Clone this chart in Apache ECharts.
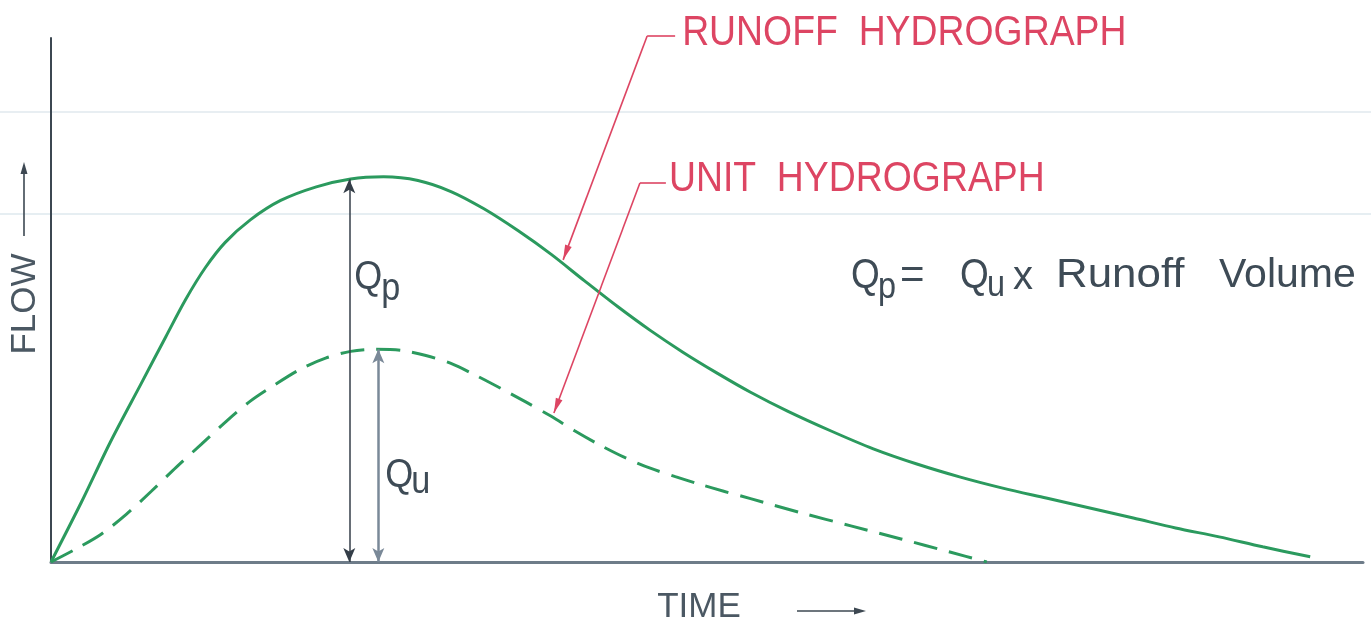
<!DOCTYPE html>
<html><head><meta charset="utf-8">
<script src="https://cdn.jsdelivr.net/npm/echarts@6/dist/echarts.min.js"></script>
<style>html,body{margin:0;padding:0;background:#fff}#c{width:1371px;height:630px}</style>
</head><body><div id="c"></div>
<script>
// ---- data (time and flow in relative units) ----
const runoffTime = [0, 2.3, 4.5, 6.8, 8.7, 10.2, 11.7, 13.2, 15.1, 17.4, 20.1, 22.7, 25.2, 27.8, 30.3, 32.8, 35.4, 37.9, 40.4, 42.9, 45.4, 47.9, 50.5, 53.0, 55.8, 59.1, 62.3, 65.6, 68.9, 72.1, 75.4, 78.7, 82.0, 85.2, 88.5, 91.8, 95.4];
const runoffFlow = [0, 11.4, 22.9, 33.9, 43.0, 50.1, 56.2, 61.0, 65.3, 69.0, 71.6, 73.1, 73.5, 72.8, 70.7, 67.4, 63.2, 58.7, 53.7, 48.8, 44.2, 40.0, 36.0, 32.4, 28.8, 25.0, 21.6, 18.7, 16.2, 14.1, 12.2, 10.3, 8.4, 6.5, 4.8, 2.9, 1.0];
const unitTime = [0, 1.9, 3.8, 5.7, 7.6, 9.5, 11.4, 13.3, 15.1, 17.0, 18.9, 20.8, 22.7, 24.6, 26.5, 28.4, 30.3, 32.2, 34.1, 36.0, 37.9, 39.7, 41.6, 43.5, 45.4, 47.3, 49.2, 51.1, 53.0, 56.8, 60.6, 64.4, 68.1, 70.9];
const unitFlow = [0, 2.5, 5.3, 9.1, 13.5, 18.1, 22.5, 26.9, 30.7, 33.9, 36.8, 38.9, 40.2, 40.6, 40.4, 39.4, 37.9, 35.6, 33.1, 30.5, 27.8, 25.0, 22.3, 19.9, 17.9, 16.3, 14.8, 13.4, 12.1, 9.4, 6.9, 4.4, 1.9, 0];
const qpArrowTime = 22.6;
const quArrowTime = 24.8;
const runoffLeaderTime = 38.8;
const unitLeaderTime = 38.1;
const runoffLabel = 'RUNOFF  HYDROGRAPH';
const unitLabel = 'UNIT  HYDROGRAPH';
const xName = 'TIME';
const yName = 'FLOW';

function interp(ts, vs, t) {
  for (let i = 1; i < ts.length; i++) {
    if (t <= ts[i]) { const f = (t - ts[i-1]) / (ts[i] - ts[i-1]); return vs[i-1] + f * (vs[i] - vs[i-1]); }
  }
  return vs[vs.length - 1];
}
const zip = (a, b) => a.map((v, i) => [v, b[i]]);
const qpTop = interp(runoffTime, runoffFlow, qpArrowTime);
const quTop = interp(unitTime, unitFlow, quArrowTime);

const GREEN = '#2b9a5e', RED = '#dd4563', INK = '#3e4b56';
const FONT = '"Liberation Sans", Arial, sans-serif';

const chart = echarts.init(document.getElementById('c'), null, {renderer: 'canvas'});
chart.setOption({
  animation: false,
  backgroundColor: '#fff',
  grid: {left: 50, right: 8, top: 38, bottom: 67},
  xAxis: {type: 'value', min: 0, max: 99.4, name: xName, nameLocation: 'middle', nameGap: 28,
    nameTextStyle: {fontFamily: FONT, fontSize: 35, color: '#4b5863', padding: [0, 16, 0, 0]},
    axisLine: {show: true, lineStyle: {color: '#6e7c89', width: 3}},
    axisTick: {show: false}, axisLabel: {show: false}, splitLine: {show: false}},
  yAxis: {type: 'value', min: 0, max: 100, name: yName, nameLocation: 'middle', nameRotate: 90, nameGap: 8,
    nameTextStyle: {fontFamily: FONT, fontSize: 35, color: '#4b5863', padding: [0, 8, 0, 0]},
    axisLine: {show: true, lineStyle: {color: '#3c4751', width: 2}},
    axisTick: {show: false}, axisLabel: {show: false}, splitLine: {show: false}},
  series: [
    {name: 'Runoff hydrograph', type: 'line', data: zip(runoffTime, runoffFlow), showSymbol: false,
      smooth: 0.3,
      lineStyle: {color: GREEN, width: 3}, z: 3,
      markLine: {silent: true, symbol: ['arrow', 'arrow'], symbolSize: [9, 14], label: {show: false},
        lineStyle: {color: '#343e48', width: 1.5, type: 'solid'},
        data: [[{coord: [qpArrowTime, 0]}, {coord: [qpArrowTime, qpTop]}]]}},
    {name: 'Unit hydrograph', type: 'line', data: zip(unitTime, unitFlow), showSymbol: false,
      smooth: 0.3,
      lineStyle: {color: GREEN, width: 3, type: [24, 12]}, z: 3,
      markLine: {silent: true, symbol: ['arrow', 'arrow'], symbolSize: [9, 14], label: {show: false},
        lineStyle: {color: '#7a8998', width: 2.5, type: 'solid'},
        data: [[{coord: [quArrowTime, 0]}, {coord: [quArrowTime, quTop]}]]}}
  ]
});

const px = (t, q) => chart.convertToPixel({xAxisIndex: 0, yAxisIndex: 0}, [t, q]);
function text(x, y, s, size, color, sx) {
  return {type: 'text', x: x, y: y, z: 10, scaleX: sx || 1, style: {text: s, font: size + 'px ' + FONT, fill: color,
    align: 'left', verticalAlign: 'middle', textAlign: 'left', textVerticalAlign: 'middle'}};
}
function head(tip, from, len, w, color) {
  const dx = tip[0] - from[0], dy = tip[1] - from[1], L = Math.hypot(dx, dy);
  const ux = dx / L, uy = dy / L, nx = -uy, ny = ux;
  return {type: 'polygon', z: 10, shape: {points: [tip, [tip[0] - ux*len + nx*w, tip[1] - uy*len + ny*w], [tip[0] - ux*len - nx*w, tip[1] - uy*len - ny*w]]}, style: {fill: color}};
}
function seg(a, b, color, w) {
  return {type: 'line', z: 10, shape: {x1: a[0], y1: a[1], x2: b[0], y2: b[1]}, style: {stroke: color, lineWidth: w}};
}

const g = [];
// faint scan lines
g.push({type: 'line', z: -1, shape: {x1: 0, y1: 112, x2: 1371, y2: 112}, style: {stroke: '#e8eef2', lineWidth: 2}});
g.push({type: 'line', z: -1, shape: {x1: 0, y1: 214, x2: 1371, y2: 214}, style: {stroke: '#e6eef2', lineWidth: 2}});
// axis direction arrows
g.push(seg([797, 611], [856, 611], '#3d4852', 1.6));
g.push(head([866, 611], [797, 611], 12, 3.5, '#3d4852'));
g.push(seg([24, 236], [24, 172], '#3d4852', 1.6));
g.push(head([24, 162], [24, 236], 12, 3.5, '#3d4852'));
// leaders
const rTip = px(runoffLeaderTime, interp(runoffTime, runoffFlow, runoffLeaderTime)); rTip[1] -= 4;
const rCorner = [rTip[0] + 84, 36];
g.push(seg(rTip, rCorner, RED, 1.6));
g.push(seg(rCorner, [rCorner[0] + 28, 36], RED, 1.6));
g.push(head(rTip, rCorner, 15, 3.5, RED));
g.push(text(rCorner[0] + 35, 33, runoffLabel, 42, RED, 0.89));
const uTip = px(unitLeaderTime, interp(unitTime, unitFlow, unitLeaderTime)); uTip[1] -= 5;
const uCorner = [uTip[0] + 86, 183];
g.push(seg(uTip, uCorner, RED, 1.6));
g.push(seg(uCorner, [uCorner[0] + 26, 183], RED, 1.6));
g.push(head(uTip, uCorner, 15, 3.5, RED));
g.push(text(uCorner[0] + 29, 179, unitLabel, 42, RED, 0.89));
// Qp / Qu labels next to the arrows
const qpX = px(qpArrowTime, 0)[0], quX = px(quArrowTime, 0)[0];
g.push(text(qpX + 5, 278, 'Q', 40, INK, 0.9));
g.push(text(qpX + 32, 290, 'p', 38, INK, 0.9));
g.push(text(quX + 7, 476, 'Q', 40, INK, 0.9));
g.push(text(quX + 33, 483, 'u', 38, INK, 0.9));
// formula
g.push(text(851, 276, 'Q', 42, INK, 0.88));
g.push(text(878, 288, 'p', 36, INK, 0.9));
g.push(text(900, 276, '=', 42, INK));
g.push(text(960, 276, 'Q', 42, INK, 0.88));
g.push(text(987, 286, 'u', 36, INK, 0.9));
g.push(text(1013, 278, 'x', 40, INK));
g.push(text(1056, 276, 'Runoff', 41, INK, 1.07));
g.push(text(1219, 276, 'Volume', 41, INK));
chart.setOption({graphic: g});
</script></body></html>
